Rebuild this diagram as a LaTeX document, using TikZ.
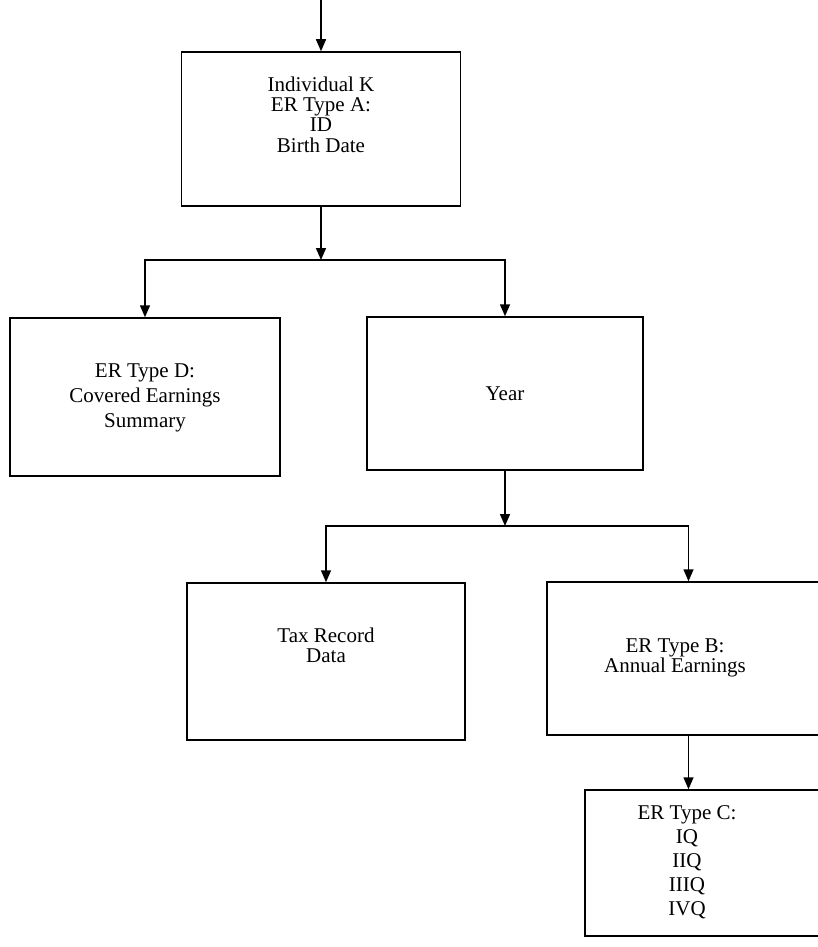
\documentclass[tikz,border=0pt]{standalone}
\usepackage{fontspec}
\setmainfont{Liberation Serif}
\usetikzlibrary{arrows.meta}
\tikzset{erbox/.style={draw=black,line width=1.5pt,inner sep=0pt,font=\fontsize{21}{20}\selectfont},
	link/.style={line width=1.5pt,-{Triangle[length=12pt,width=10pt]}}}

\begin{document}
\begin{tikzpicture}[x=1pt,y=-1pt]
		\useasboundingbox (0,0) rectangle (818,947);
		\clip (0,0) rectangle (818,947);
		\coordinate (entry) at (321,0);
		\node[erbox,minimum width=279pt,minimum height=154pt] (indA) at (321,129) {\begin{tabular}{@{}c@{}}Individual K\\ER Type A:\\ID\\Birth Date\\[22pt]\end{tabular}};
		\node[erbox,minimum width=270pt,minimum height=158pt,font=\fontsize{21}{25}\selectfont] (typeD) at (145,397) {\begin{tabular}{@{}c@{}}ER Type D:\\Covered Earnings\\Summary\end{tabular}};
		\node[erbox,minimum width=276pt,minimum height=153pt] (year) at (505,393.5) {Year};
		\node[erbox,minimum width=278pt,minimum height=157pt] (tax) at (326,661.5) {\begin{tabular}{@{}c@{}}Tax Record\\Data\\[26pt]\end{tabular}};
		\node[erbox,minimum width=283pt,minimum height=153pt] (typeB) at (688.5,658.5) {\begin{tabular}{@{}c@{}}ER Type B:\\Annual Earnings\end{tabular}\hspace*{27pt}};
		\node[erbox,minimum width=245pt,minimum height=146pt,font=\fontsize{21}{24}\selectfont] (typeC) at (707.5,863) {\begin{tabular}{@{}c@{}}ER Type C:\\IQ\\IIQ\\IIIQ\\IVQ\end{tabular}\hspace*{41pt}};
		\coordinate (split1) at (321,260);
		\coordinate (split2) at (505,526);
		
		\draw[link] (entry) -- (indA);
		\draw[link] (indA) -- (split1);
		\draw[link] (split1) -| (typeD);
		\draw[link] (split1) -| (year);
		\draw[link] (year) -- (split2);
		\draw[link] (split2) -| (tax);
		\draw[link] (split2) -| (typeB);
		\draw[link] (typeB.south) -- (typeB.south |- typeC.north);
\end{tikzpicture}
\end{document}
